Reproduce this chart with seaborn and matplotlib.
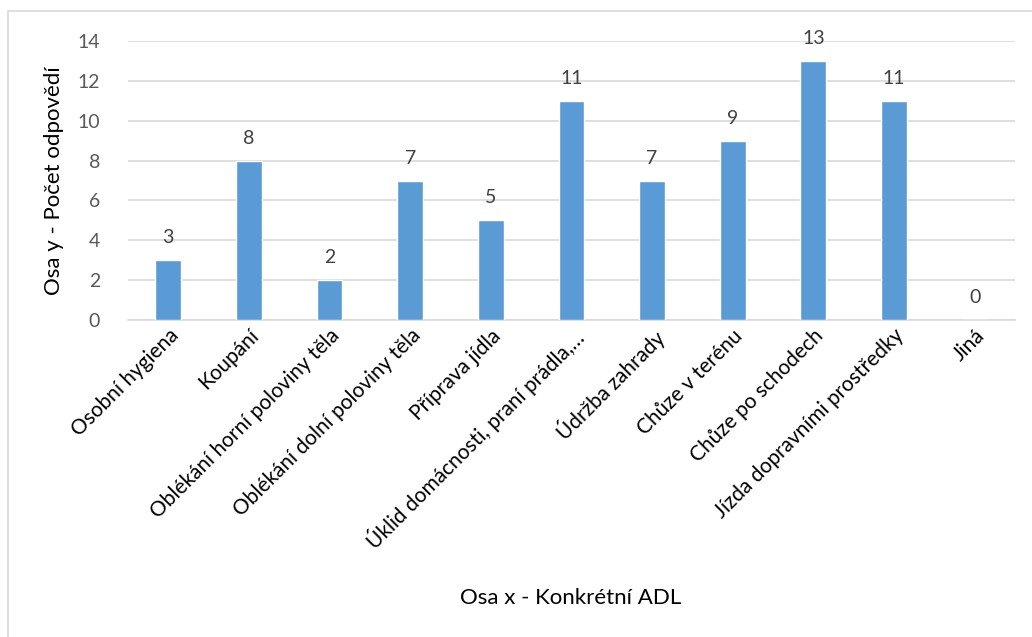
import matplotlib
matplotlib.use("Agg")
import matplotlib.pyplot as plt
import seaborn as sns
import pandas as pd
from matplotlib.lines import Line2D

categories = ["Osobní hygiena", "Koupání", "Oblékání horní poloviny těla",
              "Oblékání dolní poloviny těla", "Příprava jídla",
              "Úklid domácnosti, praní prádla,…", "Údržba zahrady",
              "Chůze v terénu", "Chůze po schodech",
              "Jízda dopravními prostředky", "Jiná"]
values = [3, 8, 2, 7, 5, 11, 7, 9, 13, 11, 0]
y_ticks = [0, 2, 4, 6, 8, 10, 12, 14]

sns.set_theme(style="white")
plt.rcParams['font.family'] = ['Lato', 'DejaVu Sans']

df = pd.DataFrame({"cat": categories, "val": values})

fig = plt.figure(figsize=(10.32, 6.37), dpi=100)
ax = fig.add_axes([0.124, 0.4976, 0.8595, 0.438])

sns.barplot(data=df, x="cat", y="val", color="#5B9BD5", width=0.32,
            saturation=1, ax=ax, zorder=3)

ax.set_ylim(0, 14)
ax.set_yticks(y_ticks)
ax.yaxis.grid(True, color="#D9D9D9", linewidth=1.2, zorder=0)
ax.set_axisbelow(True)
for s in ["top", "right", "left"]:
    ax.spines[s].set_visible(False)
ax.spines["bottom"].set_color("#D9D9D9")
ax.spines["bottom"].set_linewidth(1.2)

ax.tick_params(axis="y", labelsize=14, labelcolor="#595959", length=0, pad=20)
ax.tick_params(axis="x", labelsize=15, labelcolor="black", length=0, pad=4)
plt.setp(ax.get_xticklabels(), rotation=45, ha="right", rotation_mode="anchor")

for c in ax.containers:
    ax.bar_label(c, labels=[str(v) for v in values], padding=10,
                 fontsize=14, color="#404040")

ax.set_ylabel("Osa y - Počet odpovědí", fontsize=16, color="black", labelpad=10)
ax.set_xlabel("")
fig.text(0.553, 0.062, "Osa x - Konkrétní ADL", fontsize=16, color="black",
         ha="center", va="center")

# chart area border (top and left visible)
fig.add_artist(Line2D([8/1032, 8/1032], [0, 1 - 11/637], color="#D9D9D9", lw=1.2,
                      transform=fig.transFigure))
fig.add_artist(Line2D([8/1032, 1], [1 - 11/637, 1 - 11/637], color="#D9D9D9", lw=1.2,
                      transform=fig.transFigure))

fig.savefig("out.png", dpi=100)
